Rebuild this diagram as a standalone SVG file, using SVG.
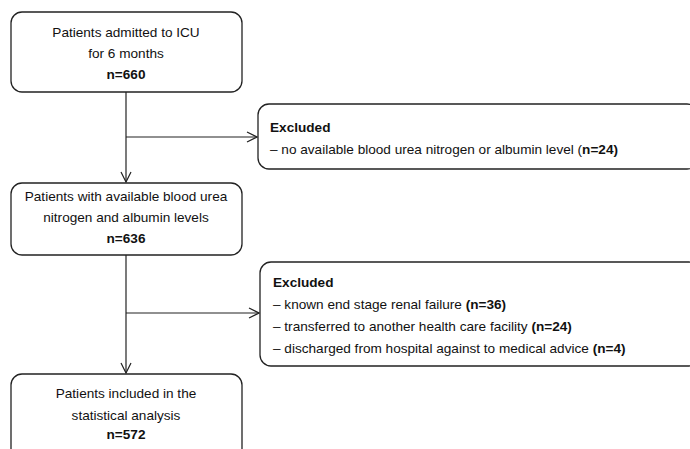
<svg xmlns="http://www.w3.org/2000/svg" width="690" height="449" viewBox="0 0 690 449">
<defs>
<style>
.box{fill:#fff;stroke:#222;stroke-width:1.3}
text{font-family:"Liberation Sans",Arial,sans-serif;font-size:13.6px;fill:#111}
.c{text-anchor:middle}
.b{font-weight:bold}
.ln{stroke:#222;stroke-width:1.2;fill:none}
</style>
<marker id="ah" viewBox="0 0 12 12" refX="11" refY="6" markerWidth="12" markerHeight="12" markerUnits="userSpaceOnUse" orient="auto">
<path d="M1,1 L11,6 L1,11" fill="none" stroke="#222" stroke-width="1.2"/>
</marker>
</defs>
<rect width="690" height="449" fill="#fff"/>
<g id="connectors">
<line class="ln" x1="126" y1="92" x2="126" y2="182" marker-end="url(#ah)"/>
<line class="ln" x1="126" y1="137" x2="257" y2="137" marker-end="url(#ah)"/>
<line class="ln" x1="126" y1="255" x2="126" y2="373" marker-end="url(#ah)"/>
<line class="ln" x1="126" y1="313" x2="259" y2="313" marker-end="url(#ah)"/>
</g>
<g id="n1">
<rect class="box" x="11" y="12" width="231" height="80" rx="11"/>
<text class="c" x="126" y="37">Patients admitted to ICU</text>
<text class="c" x="126" y="58">for 6 months</text>
<text class="c b" x="126" y="79">n=660</text>
</g>
<g id="ex1">
<rect class="box" x="258" y="104" width="440" height="65" rx="11"/>
<text class="b" x="270" y="132">Excluded</text>
<text x="270" y="154">– no available blood urea nitrogen or albumin  level (<tspan class="b">n=24)</tspan></text>
</g>
<g id="n2">
<rect class="box" x="11" y="183" width="231" height="72" rx="11"/>
<text class="c" x="126" y="201">Patients with available blood urea</text>
<text class="c" x="126" y="222">nitrogen and albumin levels</text>
<text class="c b" x="126" y="243">n=636</text>
</g>
<g id="ex2">
<rect class="box" x="260" y="262" width="440" height="104" rx="11"/>
<text class="b" x="273" y="287">Excluded</text>
<text x="273" y="309">– known end stage renal failure <tspan class="b">(n=36)</tspan></text>
<text x="273" y="331">– transferred to another health care facility <tspan class="b">(n=24)</tspan></text>
<text x="273" y="353">– discharged from hospital against to medical advice <tspan class="b">(n=4)</tspan></text>
</g>
<g id="n3">
<rect class="box" x="11" y="374" width="231" height="90" rx="11"/>
<text class="c" x="126" y="398">Patients included in the</text>
<text class="c" x="126" y="420">statistical analysis</text>
<text class="c b" x="126" y="439">n=572</text>
</g>
</svg>
